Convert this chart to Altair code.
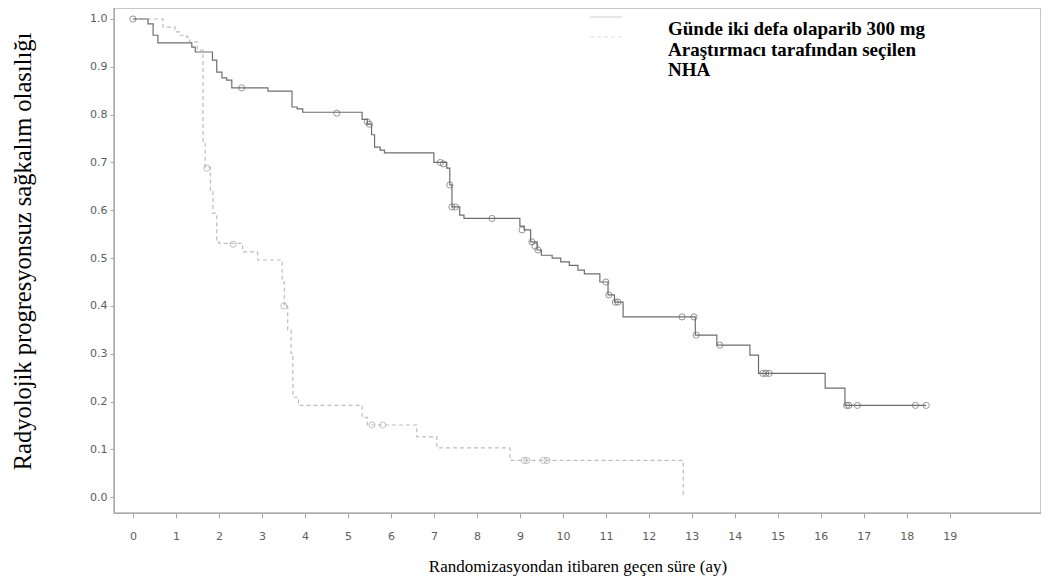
import pandas as pd
import altair as alt

# Olaparib arm: step times (months) and survival from that time on
ola_time = [0, 0.35, 0.47, 0.58, 1.37, 1.45, 1.85, 1.95, 2.07, 2.18, 2.3, 3.14, 3.7, 3.82, 3.95,
            5.33, 5.45, 5.55, 5.62, 5.75, 5.85, 7.0, 7.3, 7.37, 7.42, 7.6, 7.7,
            9.0, 9.1, 9.25, 9.4, 9.5, 9.75, 9.95, 10.15, 10.35, 10.5, 10.86, 11.05, 11.2, 11.4,
            13.08, 13.58, 14.35, 14.55, 16.1, 16.56, 18.45]
ola_surv = [1.0, 0.99, 0.966, 0.95, 0.941, 0.931, 0.914, 0.889, 0.877, 0.872, 0.856, 0.849, 0.816, 0.812, 0.805,
            0.79, 0.78, 0.758, 0.732, 0.726, 0.72, 0.70, 0.688, 0.653, 0.607, 0.59, 0.583,
            0.567, 0.559, 0.534, 0.517, 0.506, 0.5, 0.492, 0.485, 0.475, 0.467, 0.45, 0.423, 0.408, 0.377,
            0.339, 0.318, 0.297, 0.259, 0.228, 0.192, 0.192]
ola_cens_time = [0.0, 2.53, 4.74, 5.45, 5.5, 7.15, 7.22, 7.37, 7.42, 7.5, 8.35, 9.05, 9.28, 9.35, 9.42,
                 11.0, 11.07, 11.22, 11.28, 12.77, 13.05, 13.1, 13.65, 14.65, 14.72, 14.8,
                 16.6, 16.65, 16.85, 18.2, 18.45]
ola_cens_surv = [1.0, 0.856, 0.803, 0.785, 0.78, 0.70, 0.697, 0.653, 0.607, 0.607, 0.583, 0.559, 0.534, 0.525, 0.517,
                 0.45, 0.423, 0.408, 0.408, 0.377, 0.377, 0.339, 0.318, 0.259, 0.259, 0.259,
                 0.192, 0.192, 0.192, 0.192, 0.192]

# Investigator-chosen NHA arm
nha_time = [0, 0.7, 0.98, 1.1, 1.25, 1.32, 1.5, 1.63, 1.68, 1.8, 1.86, 1.95, 2.0, 2.55, 2.9,
            3.47, 3.52, 3.6, 3.68, 3.72, 3.85, 5.33, 5.45, 6.6, 7.07, 8.77, 12.8]
nha_surv = [1.0, 0.983, 0.973, 0.966, 0.962, 0.952, 0.935, 0.74, 0.69, 0.642, 0.594, 0.538, 0.531, 0.513, 0.496,
            0.45, 0.40, 0.35, 0.301, 0.209, 0.192, 0.167, 0.151, 0.126, 0.103, 0.077, 0.0]
nha_cens_time = [1.72, 2.33, 3.51, 5.56, 5.81, 9.1, 9.16, 9.55, 9.63]
nha_cens_surv = [0.688, 0.529, 0.40, 0.151, 0.151, 0.077, 0.077, 0.077, 0.077]

x_ticks = [0, 1, 2, 3, 4, 5, 6, 7, 8, 9, 10, 11, 12, 13, 14, 15, 16, 17, 18, 19]
y_ticks = [0.0, 0.1, 0.2, 0.3, 0.4, 0.5, 0.6, 0.7, 0.8, 0.9, 1.0]

legend_lines = ["Günde iki defa olaparib 300 mg", "Araştırmacı tarafından seçilen", "NHA"]

df_ola = pd.DataFrame({"t": ola_time, "s": ola_surv})
df_ola_c = pd.DataFrame({"t": ola_cens_time, "s": ola_cens_surv})
df_nha = pd.DataFrame({"t": nha_time, "s": nha_surv})
df_nha_c = pd.DataFrame({"t": nha_cens_time, "s": nha_cens_surv})

x_scale = alt.Scale(domain=[-0.44, 21.12], nice=False, zero=False)
y_scale = alt.Scale(domain=[-0.033, 1.023], nice=False, zero=False)

x_axis = alt.Axis(values=x_ticks, title="Randomizasyondan itibaren geçen süre (ay)", grid=False,
                  tickSize=5, labelPadding=12, titleY=58, titleBaseline="alphabetic", titleFontSize=17)
y_axis = alt.Axis(values=y_ticks, format=".1f", title="Radyolojik progresyonsuz sağkalım olasılığı",
                  grid=False, tickSize=4, labelPadding=3, titleX=-91, titleY=243, titleAngle=-90,
                  titleAlign="center", titleBaseline="middle", titleFontSize=24.5)

X = alt.X("t:Q", scale=x_scale, axis=x_axis)
Y = alt.Y("s:Q", scale=y_scale, axis=y_axis)

nha_line = alt.Chart(df_nha).mark_line(interpolate="step-after", color="#bdbdbd",
                                       strokeWidth=1.2, strokeDash=[4, 3]).encode(x=X, y=Y)
nha_pts = alt.Chart(df_nha_c).mark_point(shape="circle", filled=False, size=38,
                                         color="#a8a8a8", strokeWidth=1).encode(x=X, y=Y)
ola_line = alt.Chart(df_ola).mark_line(interpolate="step-after", color="#6e6e6e",
                                       strokeWidth=1.2).encode(x=X, y=Y)
ola_pts = alt.Chart(df_ola_c).mark_point(shape="circle", filled=False, size=38,
                                         color="#6a6a6a", strokeWidth=1).encode(x=X, y=Y)

# faint legend samples (mostly hidden in the original)
leg_solid = alt.Chart(df_ola.head(1)).mark_rule(color="#d8d8d8", strokeWidth=1.2).encode(
    x=alt.value(476), x2=alt.value(508), y=alt.value(9))
leg_dash = alt.Chart(df_ola.head(1)).mark_rule(color="#e0e0e0", strokeWidth=1.2, strokeDash=[4, 3]).encode(
    x=alt.value(476), x2=alt.value(508), y=alt.value(29))

legend_text = []
for i, line in enumerate(legend_lines):
    legend_text.append(
        alt.Chart(pd.DataFrame({"label": [line]})).mark_text(
            font="Liberation Serif", fontWeight="bold", fontSize=19, align="left",
            baseline="alphabetic", color="black"
        ).encode(x=alt.value(554), y=alt.value(27 + 20.7 * i), text="label:N")
    )

chart = alt.layer(nha_line, nha_pts, ola_line, ola_pts, leg_solid, leg_dash, *legend_text).properties(
    width=927, height=505, autosize="none",
    padding={"left": 106, "top": 0, "right": 0, "bottom": 70}
).configure_view(
    stroke="#b5b5b5", strokeWidth=1.5
).configure_axis(
    domainColor="#aaaaaa", tickColor="#aaaaaa", labelColor="#5e5e5e",
    labelFont="DejaVu Sans", labelFontSize=11,
    titleFont="Liberation Serif", titleFontWeight="normal", titleColor="black"
)

chart.save("out.html", embed_options={"renderer": "svg", "actions": False})
